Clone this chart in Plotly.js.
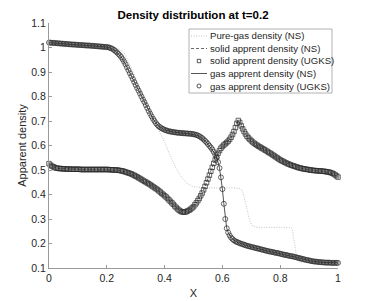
<!DOCTYPE html>
<html>
<head>
<meta charset="utf-8">
<script src="https://cdn.plot.ly/plotly-3.0.1.min.js"></script>
<style>html,body{margin:0;padding:0;background:#fff;}#chart{width:374px;height:301px;}</style>
</head>
<body>
<div id="chart"></div>
<script>
// ---- data ----
const xGrid = [
  0,0.005,0.01,0.015,0.02,0.025,0.03,0.035,0.04,0.045,0.05,0.055,0.06,0.065,0.07,0.075,0.08,0.085,0.09,0.095,
  0.1,0.105,0.11,0.115,0.12,0.125,0.13,0.135,0.14,0.145,0.15,0.155,0.16,0.165,0.17,0.175,0.18,0.185,0.19,0.195,
  0.2,0.205,0.21,0.215,0.22,0.225,0.23,0.235,0.24,0.245,0.25,0.255,0.26,0.265,0.27,0.275,0.28,0.285,0.29,0.295,
  0.3,0.305,0.31,0.315,0.32,0.325,0.33,0.335,0.34,0.345,0.35,0.355,0.36,0.365,0.37,0.375,0.38,0.385,0.39,0.395,
  0.4,0.405,0.41,0.415,0.42,0.425,0.43,0.435,0.44,0.445,0.45,0.455,0.46,0.465,0.47,0.475,0.48,0.485,0.49,0.495,
  0.5,0.505,0.51,0.515,0.52,0.525,0.53,0.535,0.54,0.545,0.55,0.555,0.56,0.565,0.57,0.575,0.58,0.585,0.59,0.595,
  0.6,0.605,0.61,0.615,0.62,0.625,0.63,0.635,0.64,0.645,0.65,0.655,0.66,0.665,0.67,0.675,0.68,0.685,0.69,0.695,
  0.7,0.705,0.71,0.715,0.72,0.725,0.73,0.735,0.74,0.745,0.75,0.755,0.76,0.765,0.77,0.775,0.78,0.785,0.79,0.795,
  0.8,0.805,0.81,0.815,0.82,0.825,0.83,0.835,0.84,0.845,0.85,0.855,0.86,0.865,0.87,0.875,0.88,0.885,0.89,0.895,
  0.9,0.905,0.91,0.915,0.92,0.925,0.93,0.935,0.94,0.945,0.95,0.955,0.96,0.965,0.97,0.975,0.98,0.985,0.99,0.995,
  1.0];

const gasApparent = [
  1.020,1.020,1.019,1.019,1.018,1.018,1.017,1.017,1.016,1.016,1.015,1.015,1.014,1.014,1.013,1.013,1.012,1.012,1.012,1.011,
  1.011,1.010,1.010,1.010,1.009,1.009,1.008,1.008,1.008,1.007,1.007,1.006,1.006,1.005,1.005,1.004,1.004,1.003,1.003,1.002,
  1.002,1.001,0.999,0.997,0.994,0.990,0.985,0.980,0.974,0.968,0.961,0.952,0.942,0.931,0.919,0.907,0.895,0.883,0.871,0.859,
  0.847,0.835,0.824,0.812,0.800,0.788,0.777,0.765,0.753,0.741,0.730,0.719,0.709,0.700,0.691,0.684,0.678,0.674,0.670,0.667,
  0.664,0.662,0.660,0.658,0.657,0.656,0.655,0.654,0.653,0.652,0.652,0.651,0.651,0.650,0.650,0.649,0.649,0.648,0.648,0.647,
  0.646,0.645,0.643,0.641,0.638,0.634,0.630,0.625,0.619,0.613,0.606,0.599,0.592,0.584,0.574,0.563,0.550,0.532,0.508,0.470,
  0.422,0.362,0.300,0.262,0.245,0.233,0.224,0.218,0.213,0.209,0.206,0.204,0.201,0.199,0.197,0.195,0.193,0.191,0.189,0.188,
  0.186,0.185,0.183,0.182,0.180,0.179,0.177,0.176,0.174,0.173,0.171,0.170,0.168,0.167,0.166,0.165,0.163,0.162,0.161,0.160,
  0.158,0.157,0.155,0.154,0.153,0.152,0.150,0.149,0.148,0.147,0.145,0.144,0.142,0.141,0.139,0.138,0.136,0.135,0.133,0.132,
  0.131,0.129,0.128,0.127,0.126,0.126,0.125,0.124,0.124,0.123,0.123,0.122,0.122,0.122,0.122,0.121,0.121,0.121,0.121,0.121,
  0.121];

const solidApparent = [
  0.526,0.520,0.516,0.513,0.510,0.508,0.507,0.506,0.506,0.505,0.505,0.504,0.504,0.504,0.504,0.503,0.503,0.503,0.503,0.503,
  0.503,0.503,0.502,0.502,0.502,0.502,0.502,0.502,0.502,0.502,0.502,0.502,0.502,0.502,0.502,0.502,0.502,0.502,0.502,0.502,
  0.502,0.502,0.501,0.501,0.501,0.500,0.500,0.500,0.499,0.498,0.497,0.496,0.494,0.492,0.490,0.488,0.486,0.484,0.481,0.478,
  0.475,0.472,0.468,0.465,0.461,0.458,0.454,0.451,0.447,0.444,0.440,0.436,0.432,0.428,0.424,0.420,0.415,0.410,0.405,0.400,
  0.395,0.390,0.384,0.378,0.372,0.366,0.360,0.353,0.347,0.341,0.336,0.332,0.329,0.328,0.328,0.330,0.333,0.336,0.340,0.345,
  0.350,0.358,0.366,0.375,0.384,0.395,0.406,0.419,0.433,0.448,0.463,0.479,0.495,0.511,0.527,0.541,0.555,0.568,0.579,0.589,
  0.596,0.602,0.607,0.612,0.618,0.625,0.634,0.645,0.657,0.673,0.690,0.702,0.694,0.680,0.668,0.657,0.647,0.638,0.631,0.625,
  0.619,0.614,0.609,0.605,0.601,0.597,0.594,0.590,0.587,0.583,0.580,0.576,0.572,0.569,0.565,0.561,0.557,0.553,0.549,0.545,
  0.541,0.538,0.535,0.532,0.529,0.526,0.524,0.521,0.519,0.517,0.515,0.513,0.511,0.509,0.508,0.506,0.505,0.504,0.503,0.502,
  0.501,0.500,0.499,0.498,0.498,0.497,0.497,0.496,0.496,0.495,0.495,0.494,0.493,0.492,0.491,0.489,0.487,0.484,0.480,0.476,
  0.471];

const xPure = [0,0.1,0.2,0.22,0.24,0.26,0.28,0.30,0.32,0.34,0.36,0.38,0.40,0.42,0.44,0.46,0.48,0.50,0.52,0.54,
  0.64,0.655,0.66,0.665,0.67,0.675,0.68,0.685,0.69,0.695,0.70,0.705,0.715,0.73,
  0.836,0.84,0.843,0.846,0.85,0.854,0.858,0.862,0.87,0.9,1.0];
const pureGas = [1.015,1.010,1.006,1.003,0.996,0.978,0.930,0.872,0.814,0.760,0.710,0.662,0.613,0.558,0.506,0.468,0.443,0.432,0.428,0.427,
  0.427,0.426,0.424,0.420,0.410,0.390,0.362,0.335,0.311,0.292,0.279,0.271,0.267,0.266,
  0.266,0.262,0.250,0.225,0.190,0.160,0.138,0.128,0.124,0.122,0.121];

const seriesNames = ['Pure-gas density (NS)','solid apprent density (NS)','solid apprent density (UGKS)','gas apprent density (NS)','gas apprent density (UGKS)'];
const xTickVals = [0,0.2,0.4,0.6,0.8,1];
const xTickText = ['0','0.2','0.4','0.6','0.8','1'];
const yTickVals = [0.1,0.2,0.3,0.4,0.5,0.6,0.7,0.8,0.9,1,1.1];
const yTickText = ['0.1','0.2','0.3','0.4','0.5','0.6','0.7','0.8','0.9','1','1.1'];

// ---- layout geometry (pixels) ----
const W = 374, H = 301;
const M = {l: 49, r: 36, t: 23, b: 33};
const PW = W - M.l - M.r, PH = H - M.t - M.b;
const px = v => (v - M.l) / PW;          // pixel x -> paper
const py = v => (H - M.b - v) / PH;      // pixel y -> paper

const ink = '#262626';
const mk = '#2a2a2a';
const FONT = 'Liberation Sans, Arial, Helvetica, sans-serif';

const pureStyle = {color: '#a6a6a6', width: 0.7, dash: '1px,1.5px'};
const dashStyle = {color: mk, width: 0.7, dash: '3px,2px'};
const solidStyle = {color: mk, width: 0.8, dash: 'solid'};

const traces = [
  {x: xPure, y: pureGas, name: seriesNames[0], mode: 'lines', cliponaxis: false, line: pureStyle},
  {x: xGrid, y: solidApparent, name: seriesNames[1], mode: 'lines', cliponaxis: false, line: dashStyle},
  {x: xGrid, y: solidApparent, name: seriesNames[2], mode: 'markers', cliponaxis: false,
   marker: {symbol: 'square-open', size: 4.5, color: mk, line: {color: mk, width: 0.7}}},
  {x: xGrid, y: gasApparent, name: seriesNames[3], mode: 'lines', cliponaxis: false, line: solidStyle},
  {x: xGrid, y: gasApparent, name: seriesNames[4], mode: 'markers', cliponaxis: false,
   marker: {symbol: 'circle-open', size: 5, color: mk, line: {color: mk, width: 0.7}}}
];

// custom legend (MATLAB style) built from shapes + text annotations
const LB = {x0: 189, x1: 332, y0: 29, y1: 93};
const rows = [36, 48.5, 61, 73.5, 86];
const shapes = [
  {type: 'rect', xref: 'paper', yref: 'paper', x0: px(LB.x0), x1: px(LB.x1), y0: py(LB.y0), y1: py(LB.y1),
   fillcolor: '#ffffff', line: {color: '#a0a0a0', width: 0.8}, layer: 'above'}
];
const lineStyles = [pureStyle, dashStyle, null, solidStyle, null];
rows.forEach((ry, i) => {
  if (lineStyles[i]) {
    shapes.push({type: 'line', xref: 'paper', yref: 'paper', x0: px(191), x1: px(207), y0: py(ry), y1: py(ry),
      line: lineStyles[i], layer: 'above'});
  } else if (i === 2) {
    shapes.push({type: 'rect', xref: 'paper', yref: 'paper', x0: px(197.3), x1: px(200.7), y0: py(ry - 1.7), y1: py(ry + 1.7),
      line: {color: mk, width: 0.8}, layer: 'above'});
  } else {
    shapes.push({type: 'circle', xref: 'paper', yref: 'paper', x0: px(197), x1: px(201), y0: py(ry - 2), y1: py(ry + 2),
      line: {color: mk, width: 0.8}, layer: 'above'});
  }
});
const annotations = seriesNames.map((name, i) => ({
  text: name, xref: 'paper', yref: 'paper', x: px(207.5), y: py(rows[i]), xanchor: 'left', yanchor: 'middle',
  showarrow: false, font: {family: FONT, size: 9.6, color: ink}
}));

const axisCommon = {
  showgrid: false, zeroline: false, showline: true, linecolor: '#9a9a9a', linewidth: 1,
  ticks: 'inside', ticklen: 3, tickcolor: '#9a9a9a', tickwidth: 1, mirror: false,
  tickfont: {family: FONT, size: 10.5, color: ink}, fixedrange: true
};

const layout = {
  width: W, height: H,
  margin: M,
  paper_bgcolor: '#ffffff', plot_bgcolor: '#ffffff',
  showlegend: false,
  font: {family: FONT, color: ink},
  title: {text: 'Density distribution at t=0.2', font: {family: FONT, size: 11.5, color: '#000', weight: 700},
          x: 193 / W, xanchor: 'center', y: 1 - 14.5 / H, yanchor: 'middle', xref: 'container', yref: 'container'},
  xaxis: Object.assign({}, axisCommon, {range: [0, 1], tickvals: xTickVals, ticktext: xTickText,
          title: {text: 'X', font: {family: FONT, size: 11, color: ink}, standoff: 6}}),
  yaxis: Object.assign({}, axisCommon, {range: [0.1, 1.1], tickvals: yTickVals, ticktext: yTickText,
          title: {text: 'Apparent density', font: {family: FONT, size: 11, color: ink}, standoff: 2}}),
  shapes: shapes,
  annotations: annotations
};

Plotly.newPlot('chart', traces, layout, {staticPlot: true, displayModeBar: false});
</script>
</body>
</html>
